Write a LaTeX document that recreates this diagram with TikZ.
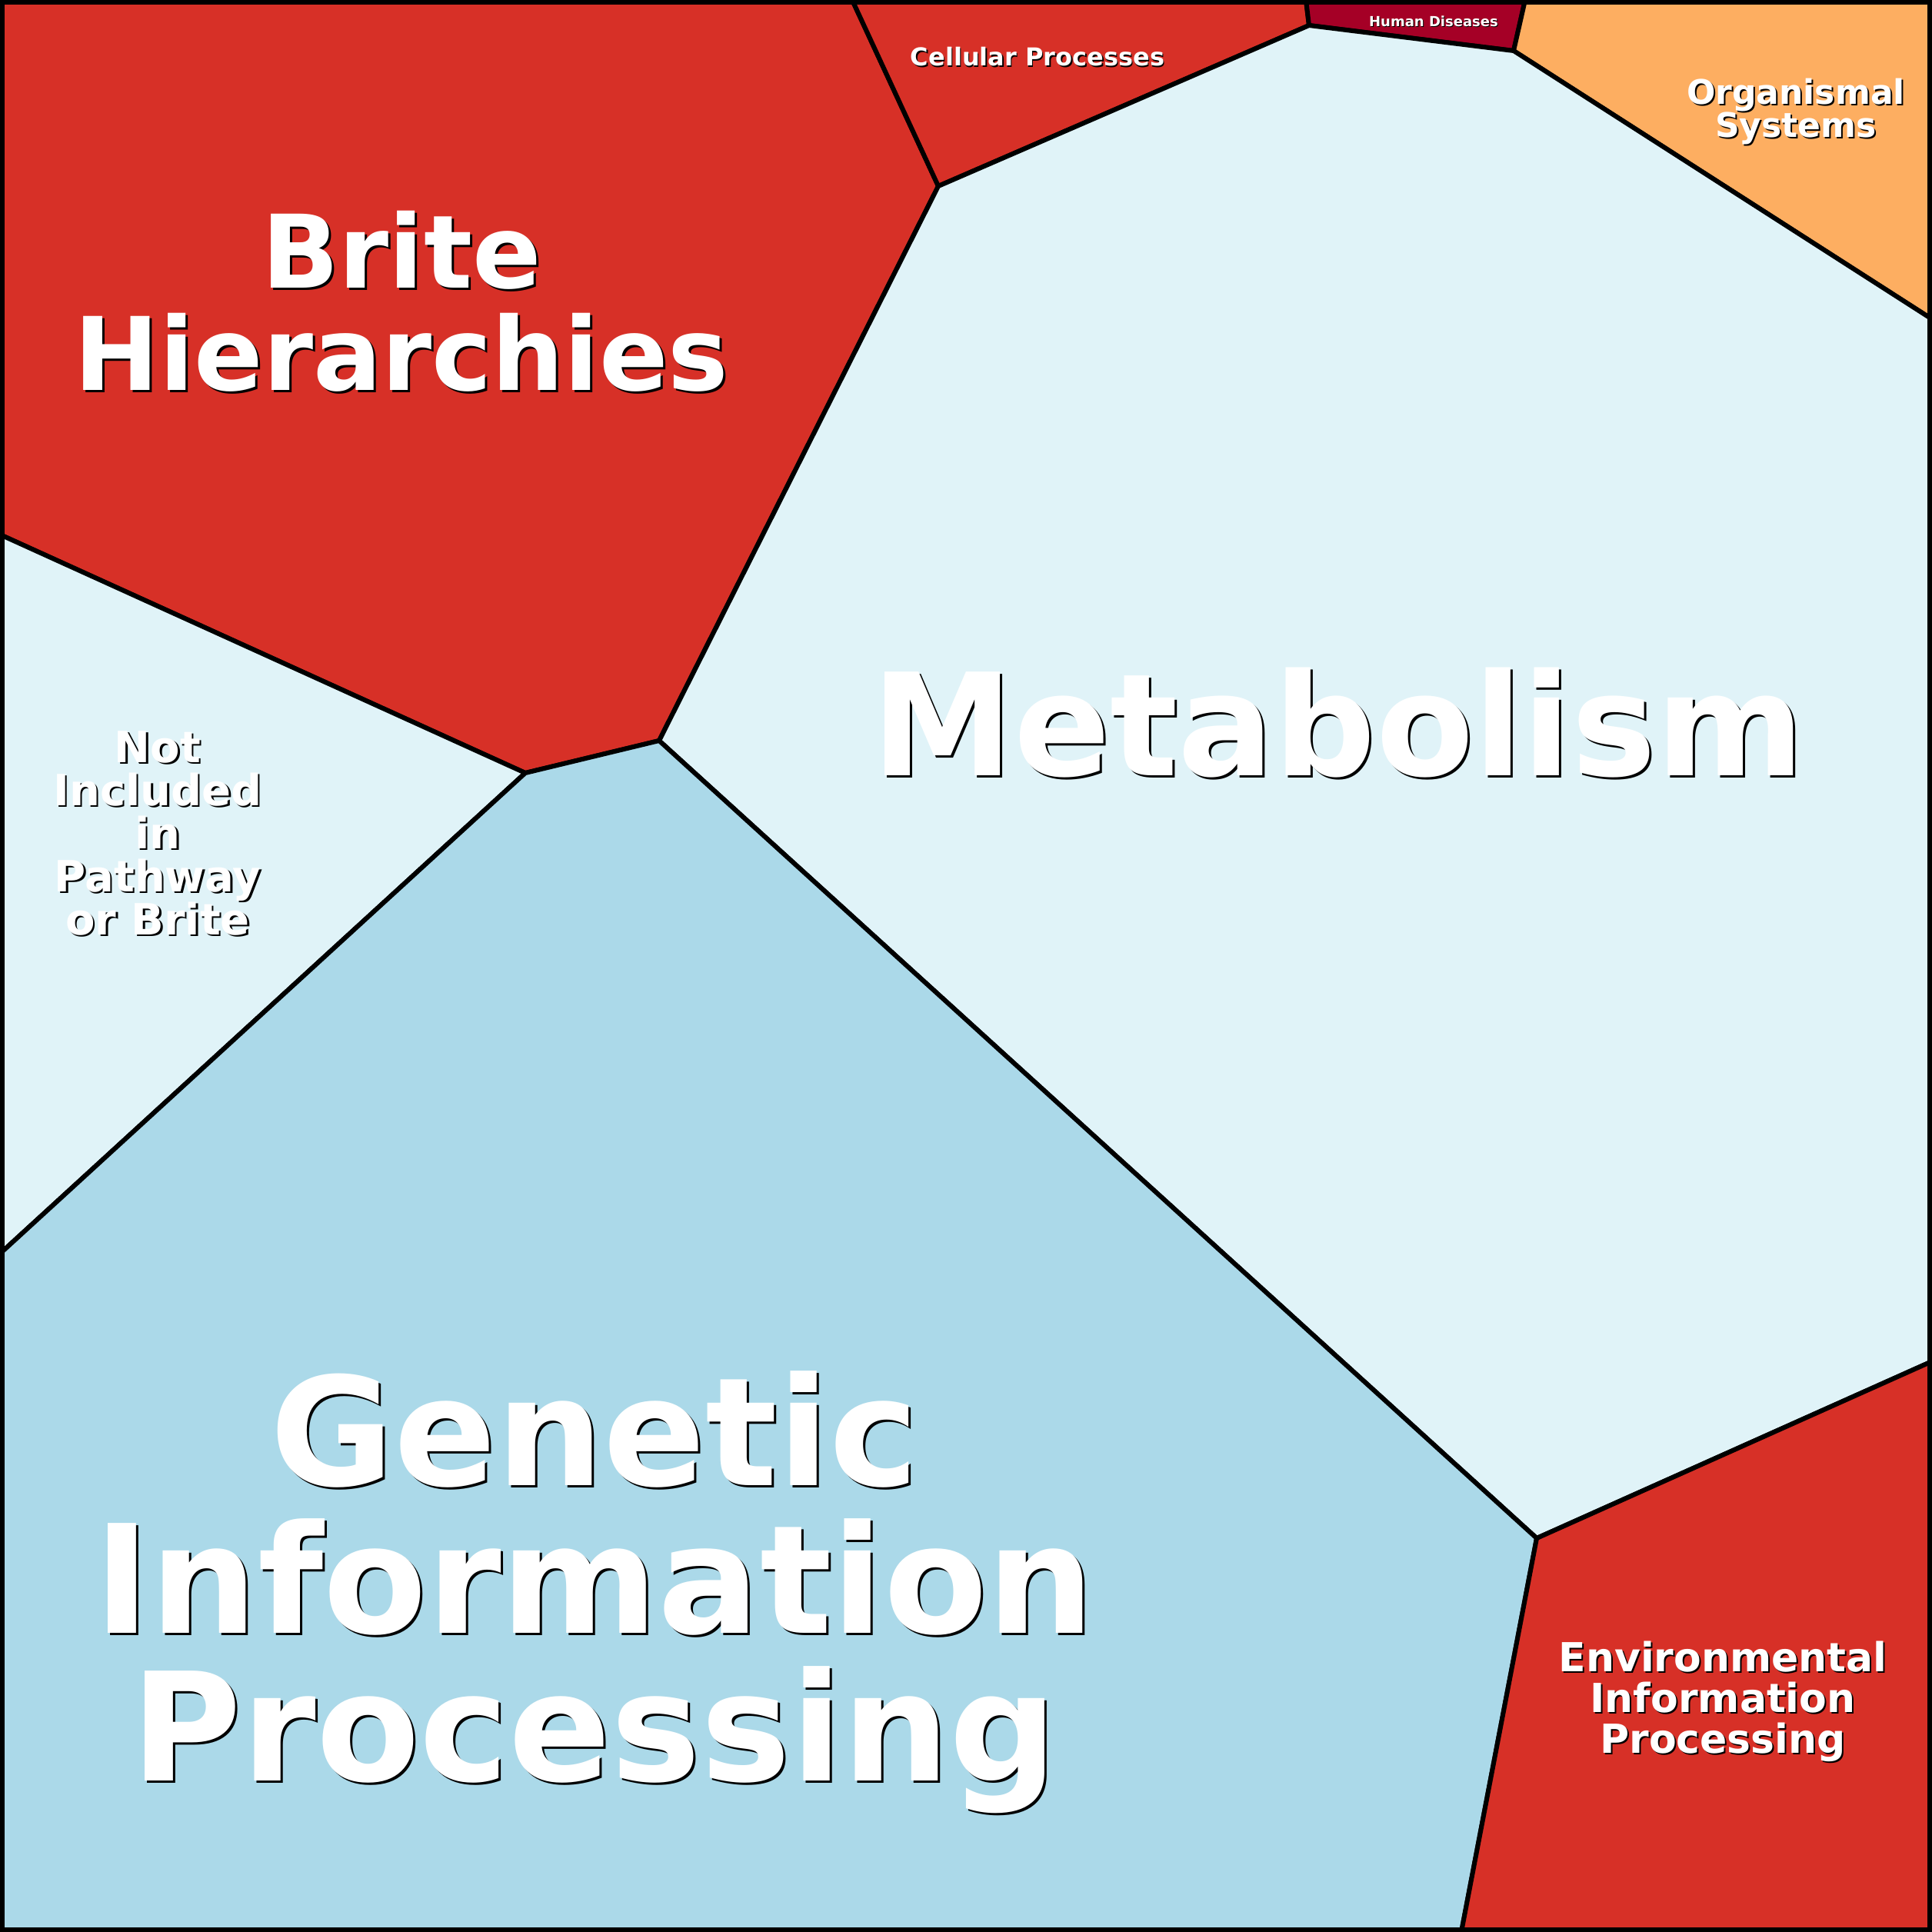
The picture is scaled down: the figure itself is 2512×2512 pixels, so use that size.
\documentclass[tikz,border=0pt]{standalone}
\usepackage{fontspec}
\setmainfont{DejaVu Sans}
\begin{document}
\begin{tikzpicture}[x=1pt,y=-1pt,
  cell/.style={draw=black,line width=6pt,line join=round},
  lab/.style={align=center,inner sep=0pt}]
\definecolor{cred}{HTML}{D73027}
\definecolor{clight}{HTML}{E0F3F8}
\definecolor{cblue}{HTML}{ABD9E9}
\definecolor{corange}{HTML}{FDAE61}
\definecolor{cdark}{HTML}{A50026}
\useasboundingbox (0,0) rectangle (2512,2512);
\coordinate (A) at (1108,0); \coordinate (B) at (1220,242);
\coordinate (C) at (857,963); \coordinate (D) at (683,1005);
\coordinate (E) at (0,695); \coordinate (F) at (1698,0);
\coordinate (G) at (1702,33); \coordinate (H) at (1983,0);
\coordinate (I) at (1968,66); \coordinate (J) at (2512,415);
\coordinate (K) at (2512,1770); \coordinate (L) at (1998,2000);
\coordinate (M) at (0,1630); \coordinate (N) at (1900,2512);
\fill[cred,cell] (0,0) -- (A) -- (B) -- (C) -- (D) -- (E) -- cycle;
\fill[cred,cell] (A) -- (F) -- (G) -- (B) -- cycle;
\fill[cdark,cell] (F) -- (H) -- (I) -- (G) -- cycle;
\fill[corange,cell] (H) -- (2512,0) -- (J) -- (I) -- cycle;
\fill[clight,cell] (G) -- (I) -- (J) -- (K) -- (L) -- (C) -- (B) -- cycle;
\fill[clight,cell] (E) -- (D) -- (M) -- cycle;
\fill[cblue,cell] (M) -- (D) -- (C) -- (L) -- (N) -- (0,2512) -- cycle;
\fill[cred,cell] (L) -- (K) -- (2512,2512) -- (N) -- cycle;
\draw[line width=12pt] (0,0) rectangle (2512,2512);
\newcommand{\shlabel}[6]{%
  \node[lab,text=black,xshift=#5pt,yshift=-#5pt,font=\fontsize{#3}{#4}\selectfont\bfseries] at (#1,#2) {#6};
  \node[lab,text=white,font=\fontsize{#3}{#4}\selectfont\bfseries] (n#1) at (#1,#2) {#6};}
\shlabel{522}{392}{132}{133}{3}{Brite\\Hierarchies}
\shlabel{1740}{940}{185}{190}{3}{Metabolism}
\shlabel{773}{2070}{196}{192}{3}{Genetic\\Information\\Processing}
\shlabel{205}{1083}{56}{56}{2.5}{Not\\Included\\in\\Pathway\\or Brite}
\shlabel{2335}{145}{44}{43}{2}{Organismal\\Systems}
\shlabel{2240}{2212}{52}{53}{2}{Environmental\\Information\\Processing}
\shlabel{1349}{74}{32}{36}{1.5}{Cellular Processes}
\shlabel{1864}{28}{18}{20}{1}{Human Diseases}
\end{tikzpicture}
\end{document}
